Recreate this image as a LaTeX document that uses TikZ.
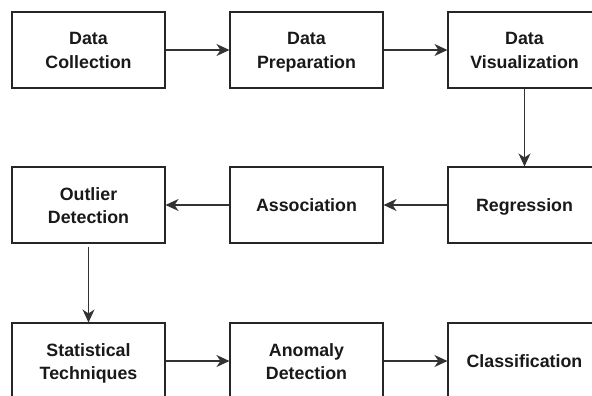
\documentclass[tikz,border=0pt]{standalone}
\usepackage{fontspec}
\setmainfont{Liberation Sans}
\usetikzlibrary{arrows.meta}
\newcommand\lnstrut{\rule[-4.2pt]{0pt}{21.7pt}}
\begin{document}
\begin{tikzpicture}[x=1pt,y=-1pt,
  box/.style={draw=black!85, line width=1.1pt, minimum width=153pt, minimum height=76pt,
    inner sep=0pt, align=center, text=black!90,
    font=\bfseries\fontsize{17.8}{23.3}\selectfont},
  conn/.style={draw=black!80, line width=1.2pt, -{Stealth[length=13pt,width=12pt,inset=4pt]}}]
\useasboundingbox (0,0) rectangle (592,396);
\clip (0,0) rectangle (592,396);
\fill[white] (0,0) rectangle (592,396);
\node[box] (dc) at (88.5,50) {Data\lnstrut\\Collection\lnstrut};
\node[box] (dp) at (306.5,50) {Data\lnstrut\\Preparation\lnstrut};
\node[box] (dv) at (524.5,50) {Data\lnstrut\\Visualization\lnstrut};
\node[box] (od) at (88.5,205) {Outlier\lnstrut\\Detection\lnstrut};
\node[box] (as) at (306.5,205) {Association\lnstrut};
\node[box] (rg) at (524.5,205) {Regression\lnstrut};
\node[box] (st) at (88.5,361) {Statistical\lnstrut\\Techniques\lnstrut};
\node[box] (an) at (306.5,361) {Anomaly\lnstrut\\Detection\lnstrut};
\node[box] (cl) at (524.5,361) {Classification\lnstrut};
\draw[conn] (dc) -- (dp);
\draw[conn] (dp) -- (dv);
\draw[conn] (dv) -- (rg);
\draw[conn] (rg) -- (as);
\draw[conn] (as) -- (od);
\draw[conn, shorten <=3pt] (od) -- (st);
\draw[conn] (st) -- (an);
\draw[conn] (an) -- (cl);
\end{tikzpicture}
\end{document}
